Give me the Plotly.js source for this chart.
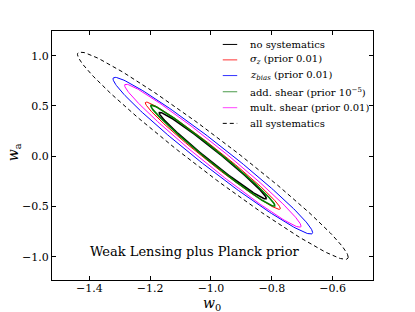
<!DOCTYPE html>
<html>
<head>
<meta charset="utf-8">
<script src="https://cdn.plot.ly/plotly-3.0.1.min.js"></script>
<style>html,body{margin:0;padding:0;background:#fff;}#chart{width:415px;height:312px;}</style>
</head>
<body>
<div id="chart"></div>
<script>
// Series (legend order)
const seriesNames = ["no systematics", "σz (prior 0.01)", "zbias (prior 0.01)", "add. shear (prior 1e-5)", "mult. shear (prior 0.01)", "all systematics"];
const legendLabels = [
  "no systematics",
  "<i>σ<sub>z</sub></i> (prior 0.01)",
  "<i>z<sub>bias</sub></i> (prior 0.01)",
  "add. shear (prior 10<sup>−5</sup>)",
  "mult. shear (prior 0.01)",
  "all systematics"
];
// Fiducial centre (w0, wa)
const centerW0 = -0.994;
const centerWa = 0.005;
// Contour half-extents
const extentW0 = [0.176, 0.222, 0.328, 0.204, 0.290, 0.445];
const extentWa = [0.431, 0.534, 0.780, 0.503, 0.712, 1.032];
// Correlation between w0 and wa for each contour
const corrW0Wa = [-0.986, -0.985, -0.980, -0.987, -0.984, -0.978];
// Tick values and axis titles
const xTicks = [-1.4, -1.2, -1.0, -0.8, -0.6];
const yTicks = [-1.0, -0.5, 0.0, 0.5, 1.0];
const xTitle = "<i>w</i><sub>0</sub>";
const yTitle = "<i>w</i><sub>a</sub>";
const annotationText = "Weak Lensing plus Planck prior";

// Styles
const colors = ["#000000", "#ff0000", "#0000ff", "#008000", "#ff00ff", "#000000"];
const widths = [1.6, 1, 1, 1.6, 1, 1];
const dashes = ["solid", "solid", "solid", "solid", "solid", "4px,3px"];
const legendColors = ["#000000", "#ff3333", "#3333ff", "#4a9a4a", "#ff44ff", "#000000"];

function ellipse(sx, sy, rho) {
  const xs = [], ys = [];
  const n = 240;
  const s = Math.sqrt(1 - rho * rho);
  for (let i = 0; i <= n; i++) {
    const t = 2 * Math.PI * i / n;
    xs.push(centerW0 + sx * Math.cos(t));
    ys.push(centerWa + sy * (rho * Math.cos(t) + s * Math.sin(t)));
  }
  return {xs, ys};
}

const traces = seriesNames.map((name, i) => {
  const e = ellipse(extentW0[i], extentWa[i], corrW0Wa[i]);
  return {
    type: "scatter", mode: "lines", name: name,
    x: e.xs, y: e.ys,
    line: {color: colors[i], width: widths[i], dash: dashes[i]},
    showlegend: false, hoverinfo: "skip"
  };
});

// Manual legend (paper coordinates)
const legRowY = [0.946, 0.884, 0.821, 0.756, 0.692, 0.629];
const legX0 = 0.532, legX1 = 0.577, legTextX = 0.612;
const shapes = legendLabels.map((lab, i) => ({
  type: "line", xref: "paper", yref: "paper",
  x0: legX0, x1: legX1, y0: legRowY[i], y1: legRowY[i],
  line: {color: legendColors[i], width: 1, dash: dashes[i]}
}));
const annotations = legendLabels.map((lab, i) => ({
  xref: "paper", yref: "paper", x: legTextX, y: legRowY[i],
  xanchor: "left", yanchor: "middle", showarrow: false, text: lab,
  font: {family: "DejaVu Serif", size: 10, color: "#000"}
}));
annotations.push({
  xref: "x", yref: "y", x: -1.405, y: -0.95, xanchor: "left", yanchor: "middle",
  showarrow: false, text: annotationText,
  font: {family: "DejaVu Serif", size: 13, color: "#000"}
});
annotations.push({
  xref: "paper", yref: "paper", x: 0.498, y: -0.095, xanchor: "center", yanchor: "middle",
  showarrow: false, text: xTitle,
  font: {family: "DejaVu Serif", size: 14, color: "#000"}
});
annotations.push({
  xref: "paper", yref: "paper", x: -0.118, y: 0.514, xanchor: "center", yanchor: "middle",
  showarrow: false, text: yTitle, textangle: -90,
  font: {family: "DejaVu Serif", size: 14, color: "#000"}
});

const axisCommon = {
  showgrid: false, zeroline: false, showline: true, linecolor: "#000", linewidth: 1,
  mirror: "ticks", ticks: "inside", ticklen: 4, tickwidth: 1, tickcolor: "#000",
  tickfont: {family: "DejaVu Serif", size: 11, color: "#000"}, tickformat: ".1f"
};

const layout = {
  width: 415, height: 312,
  margin: {l: 52, r: 42, t: 31, b: 32, pad: 0},
  paper_bgcolor: "#fff", plot_bgcolor: "#fff",
  showlegend: false,
  xaxis: Object.assign({}, axisCommon, {range: [-1.5226, -0.4675], tickvals: xTicks, ticklabelstandoff: -2}),
  yaxis: Object.assign({}, axisCommon, {range: [-1.232, 1.246], tickvals: yTicks}),
  shapes: shapes,
  annotations: annotations
};

Plotly.newPlot("chart", traces, layout, {staticPlot: true, displayModeBar: false});
</script>
</body>
</html>
